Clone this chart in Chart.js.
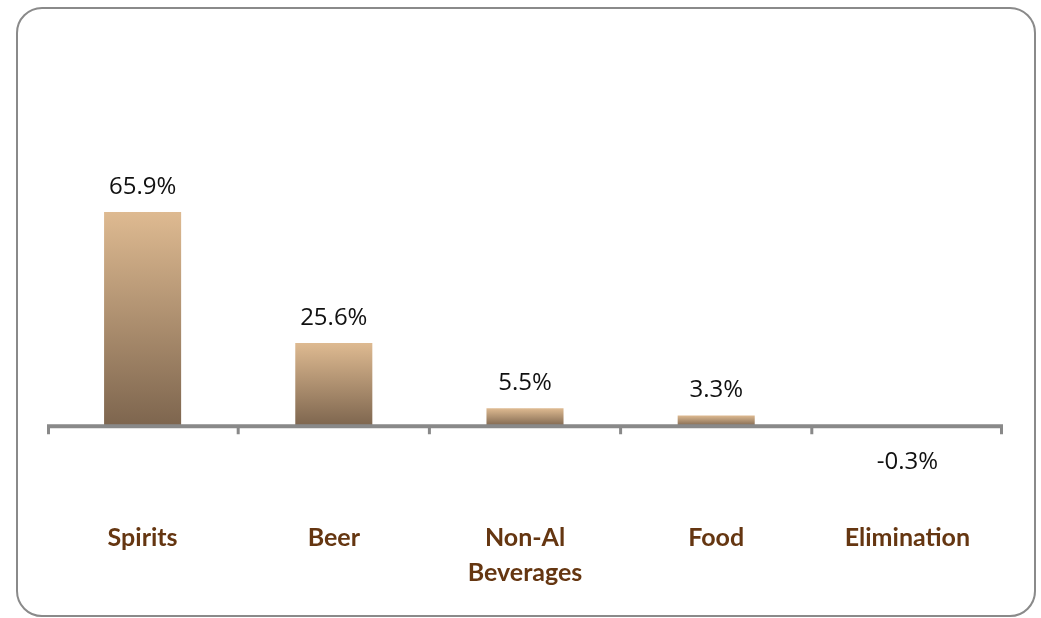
<!DOCTYPE html>
<html>
<head>
<meta charset="utf-8">
<script src="https://cdn.jsdelivr.net/npm/chart.js@4/dist/chart.umd.min.js"></script>
<style>
  html, body { margin: 0; padding: 0; background: #fff; }
  #wrap { position: relative; width: 1041px; height: 618px; }
  #frame { position: absolute; left: 16px; top: 7px; width: 1016px; height: 606px;
           border: 2px solid #8a8a8a; border-radius: 26px; pointer-events: none; }
  canvas { position: absolute; left: 0; top: 0; }
</style>
</head>
<body>
<div id="wrap">
  <canvas id="c" width="1041" height="618"></canvas>
  <div id="frame"></div>
</div>
<script>
const categories = [['Spirits'], ['Beer'], ['Non-Al', 'Beverages'], ['Food'], ['Elimination']];
const shares = [65.9, 25.6, 5.5, 3.3, -0.3];
const yMin = -3;
const yMax = 120;

const TOP_COLOR = 'rgb(222,186,145)';
const BOTTOM_COLOR = 'rgb(125,101,78)';

function barGradient(ctx) {
  const chart = ctx.chart;
  const y = chart.scales && chart.scales.y;
  if (!chart.chartArea || !y || ctx.raw === undefined) return TOP_COLOR;
  const v = ctx.raw;
  const p0 = y.getPixelForValue(0);
  const p1 = y.getPixelForValue(v);
  const top = Math.min(p0, p1), bot = Math.max(p0, p1);
  if (bot - top < 1) return 'rgb(150,120,90)';
  const g = chart.ctx.createLinearGradient(0, top, 0, bot);
  g.addColorStop(0, TOP_COLOR);
  g.addColorStop(1, BOTTOM_COLOR);
  return g;
}

const axisPlugin = {
  id: 'zeroAxis',
  afterDatasetsDraw(chart) {
    const { ctx, chartArea, scales } = chart;
    const y0 = scales.y.getPixelForValue(0);
    const x = scales.x;
    const step = x.getPixelForValue(1) - x.getPixelForValue(0);
    ctx.save();
    ctx.fillStyle = '#898989';
    ctx.fillRect(chartArea.left, y0 - 2, chartArea.right - chartArea.left, 4);
    const n = categories.length;
    for (let i = 0; i <= n; i++) {
      let px = x.getPixelForValue(0) - step / 2 + i * step;
      px = Math.min(Math.max(px, chartArea.left + 1.5), chartArea.right - 1.5);
      ctx.fillRect(px - 1.5, y0, 3, 8);
    }
    ctx.restore();
  }
};

const labelPlugin = {
  id: 'valueLabels',
  afterDraw(chart) {
    const { ctx, scales } = chart;
    const meta = chart.getDatasetMeta(0);
    ctx.save();
    ctx.font = '24px "Open Sans"';
    ctx.fillStyle = '#111';
    ctx.textAlign = 'center';
    ctx.textBaseline = 'middle';
    const y0 = scales.y.getPixelForValue(0);
    meta.data.forEach((bar, i) => {
      const v = shares[i];
      const txt = v.toFixed(1) + '%';
      if (v >= 0) ctx.fillText(txt, bar.x, bar.y - 25);
      else ctx.fillText(txt, bar.x, y0 + 36);
    });
    ctx.restore();
  }
};

new Chart(document.getElementById('c'), {
  type: 'bar',
  data: {
    labels: categories,
    datasets: [{
      data: shares,
      backgroundColor: barGradient,
      borderWidth: 0,
      categoryPercentage: 1.0,
      barPercentage: 0.403
    }]
  },
  options: {
    responsive: false,
    animation: false,
    devicePixelRatio: 1,
    layout: { padding: { left: 47, right: 38, top: 36, bottom: 0 } },
    plugins: { legend: { display: false }, tooltip: { enabled: false } },
    scales: {
      y: { display: false, min: yMin, max: yMax },
      x: {
        grid: { display: false, drawTicks: false },
        border: { display: false },
        ticks: {
          autoSkip: false, maxRotation: 0, minRotation: 0,
          padding: 84,
          color: '#653611',
          font: { family: 'Lato', size: 25, weight: 'bold', lineHeight: 1.4 }
        },
        afterFit(scale) {
          scale.height = 182;
          scale.paddingLeft = 0;
          scale.paddingRight = 0;
        }
      }
    }
  },
  plugins: [axisPlugin, labelPlugin]
});
</script>
</body>
</html>
